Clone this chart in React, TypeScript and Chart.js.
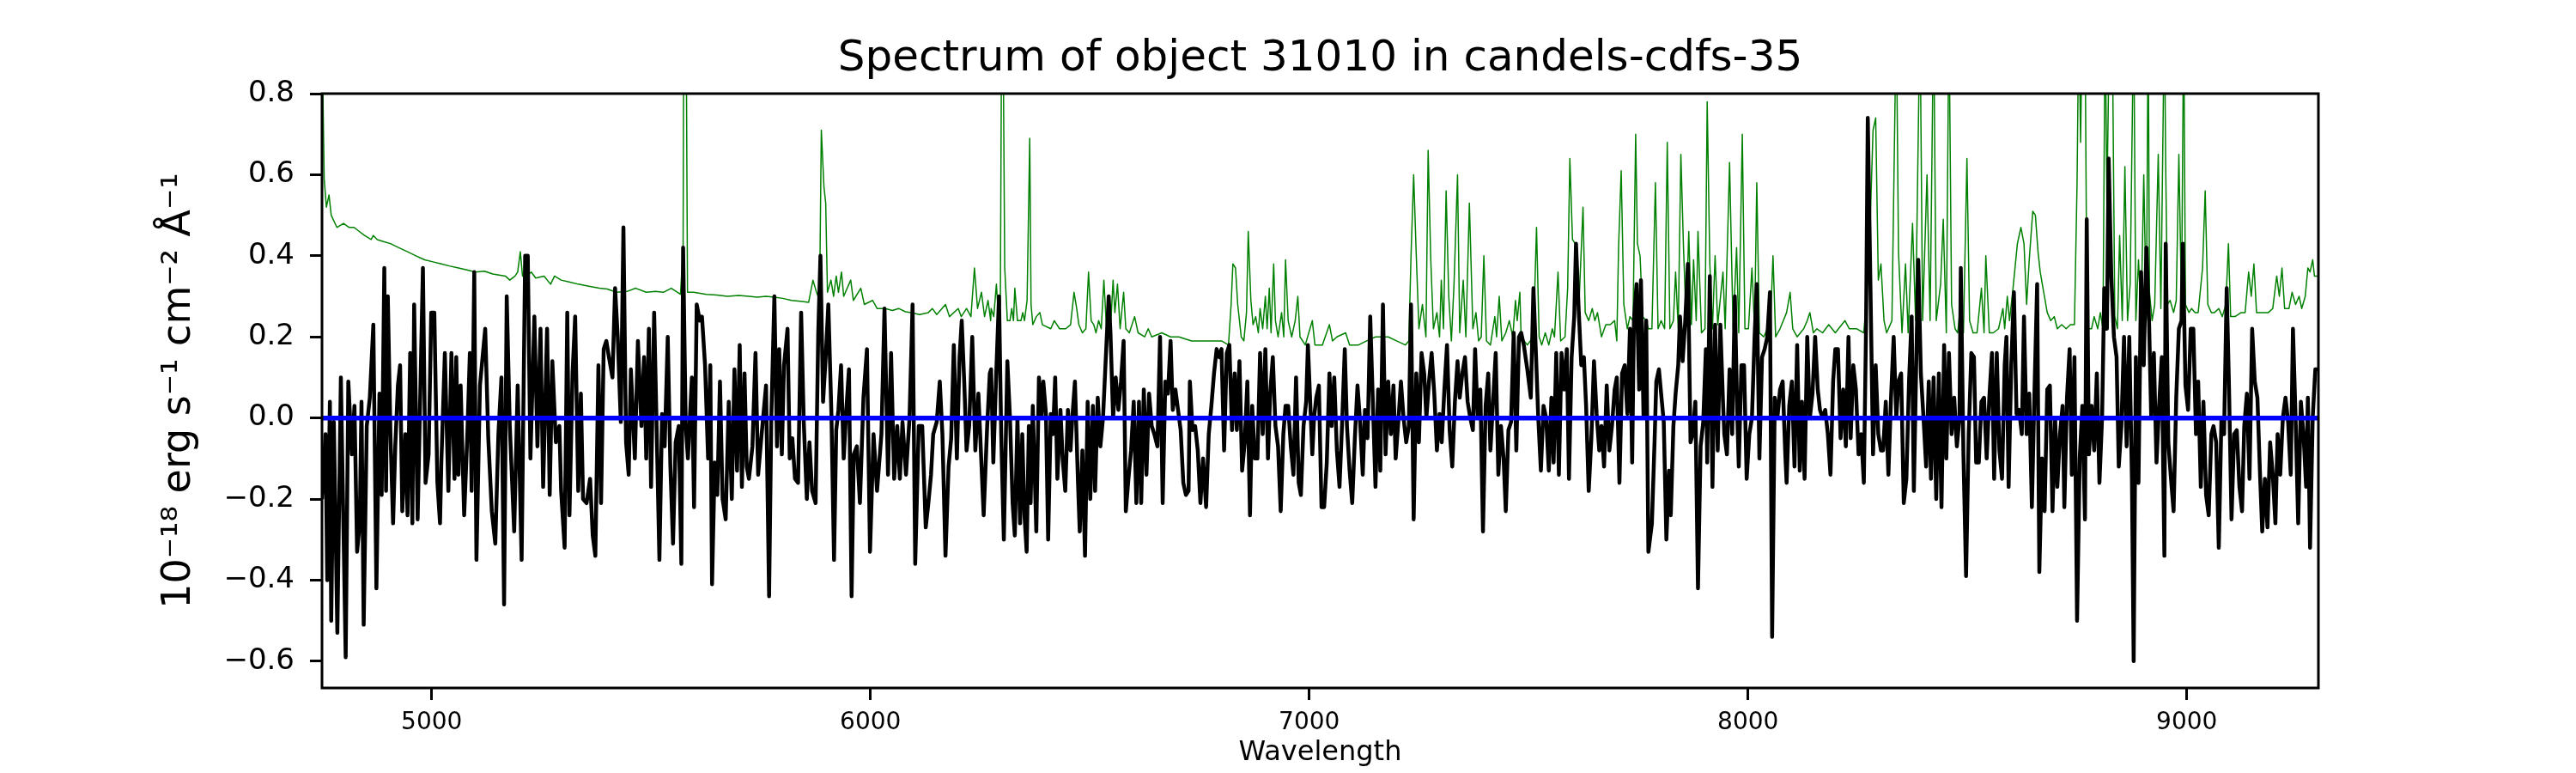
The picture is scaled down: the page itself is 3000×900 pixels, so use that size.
import React, { useEffect, useRef } from 'react';
import { Chart, registerables } from 'chart.js';

Chart.register(...registerables);

type Pt = [number, number];

const wavelengthTicks = [5000, 6000, 7000, 8000, 9000];
const fluxTicks = [-0.6, -0.4, -0.2, 0.0, 0.2, 0.4, 0.6, 0.8];

const fluxA: Pt[] = [
  [4750,-0.20],[4758,-0.04],[4762,-0.40],[4768,0.04],[4771,-0.50],[4777,-0.01],[4785,-0.53],[4793,0.10],[4804,-0.59],[4810,0.09],
  [4818,-0.09],[4824,0.03],[4830,-0.33],[4836,-0.26],[4840,0.04],[4845,-0.51],[4852,-0.02],[4859,0.05],[4867,0.23],[4874,-0.42],
  [4881,0.06],[4886,-0.19],[4892,0.37],[4896,-0.18],[4900,0.30],[4906,-0.04],[4912,-0.26],[4917,-0.07],[4923,0.08],[4928,0.13],
  [4933,-0.23],[4940,-0.04],[4945,-0.24],[4951,0.16],[4956,-0.26],[4960,0.28],[4968,-0.25],[4980,0.37],[4986,-0.16],[4993,-0.09],
  [4999,0.26],[5006,0.26],[5013,-0.16],[5019,-0.26],[5022,-0.11],[5030,0.16],[5038,-0.18],[5045,0.16],[5052,-0.15],[5056,0.15],
  [5061,-0.14],[5066,0.08],[5074,-0.24],[5081,-0.05],[5087,0.16],[5091,-0.18],[5097,0.36],[5102,-0.35],[5110,0.08],[5122,0.22],
  [5129,-0.05],[5137,-0.23],[5145,-0.31],[5152,-0.04],[5159,0.10],[5165,-0.46],[5171,0.30],[5178,-0.02],[5188,-0.28],[5196,0.08],
  [5205,-0.35],[5213,0.40],[5219,0.40],[5225,-0.10],[5234,0.25],[5241,-0.07],[5248,0.22],[5254,-0.17],[5263,0.22],[5269,-0.19],
  [5275,0.14],[5283,-0.06],[5291,-0.02],[5295,-0.18],[5303,-0.32],[5309,0.26],[5314,-0.24],[5321,0.11],[5327,0.25],[5334,-0.18],
  [5340,0.06],[5345,-0.20],[5353,-0.21],[5361,-0.15],[5367,-0.29],[5373,-0.34],[5380,0.13],[5386,-0.21],[5392,0.17],[5398,0.19],
  [5404,0.15],[5412,0.10],[5418,0.32],[5424,0.20],[5431,-0.01],[5437,0.47],[5443,-0.06],[5449,-0.14],[5454,0.12],[5463,-0.10],
  [5470,0.19],[5478,-0.02],[5484,0.15],[5489,-0.10],[5495,0.22],[5500,-0.17],[5507,0.26],[5512,0.01],[5519,-0.35],[5525,0.01],
  [5531,-0.07],[5538,0.20],[5544,-0.12],[5550,-0.31],[5556,-0.06],[5563,-0.02],[5569,-0.36],[5573,0.42],[5579,-0.02],[5584,-0.10],
  [5593,0.10],[5598,-0.22],[5604,0.28],[5611,0.24],[5616,0.25],[5623,0.13],[5630,-0.10],[5635,0.13],[5639,-0.41],[5645,-0.11],
  [5651,-0.19],[5657,0.09],[5663,-0.20],[5670,-0.25],[5677,0.04],[5684,-0.20],[5690,0.12],[5696,-0.13],[5702,0.18],[5707,-0.17],
  [5713,0.11],[5718,-0.12],[5723,-0.15],[5731,-0.07],[5738,0.16],[5744,-0.14],[5752,-0.04],[5762,0.08],[5769,-0.44],[5774,0.00],
  [5781,0.30],[5787,-0.07],[5792,0.17],[5798,-0.09],[5803,0.13],[5811,0.22],[5816,-0.10],[5822,-0.05],[5828,-0.15],[5835,-0.16],
  [5842,0.26],[5848,-0.01],[5855,-0.20],[5861,-0.06],[5867,-0.18],[5875,-0.21],[5881,0.21],[5886,0.40],[5892,0.04],[5898,0.15],
  [5904,0.28],[5911,0.01],[5917,-0.35],[5922,-0.03],[5927,0.02],[5933,0.13],[5939,-0.10],[5945,0.02],[5951,0.12],[5957,-0.44],
  [5962,-0.09],[5969,-0.07],[5976,-0.21],[5984,0.05],[5992,0.17],[5999,-0.33],[6007,-0.04],[6015,-0.18],[6025,-0.04],[6032,0.27],
  [6040,-0.14],[6047,0.16],[6054,-0.15],[6061,-0.02],[6067,-0.15],[6073,-0.01],[6081,-0.14],[6089,0.00],[6096,0.28],[6102,-0.36],
  [6110,-0.02],[6118,-0.02],[6126,-0.27],[6132,-0.21],[6138,-0.14],[6143,-0.04],[6151,-0.01],[6158,0.09],[6164,-0.04],[6171,-0.34],
  [6178,-0.12],[6184,-0.05],[6190,0.18],[6197,-0.10],[6203,0.15],[6208,0.24],[6214,0.08],[6219,-0.08],[6225,-0.02],[6232,0.20],
  [6239,-0.08],[6246,0.06],[6252,-0.09],[6258,-0.24],[6266,-0.02],[6272,0.11],
];

const fluxB: Pt[] = [
  [6275,0.12],[6280,-0.11],[6287,0.12],[6293,0.30],[6298,-0.04],[6304,-0.30],[6312,0.14],[6318,0.00],[6324,-0.21],[6329,-0.29],
  [6335,0.00],[6341,-0.26],[6346,-0.04],[6351,-0.24],[6356,-0.33],[6361,-0.02],[6365,-0.21],[6370,0.03],[6378,-0.28],[6384,0.10],
  [6390,0.00],[6394,0.09],[6400,0.01],[6405,-0.30],[6411,0.01],[6416,-0.04],[6421,0.10],[6426,-0.15],[6433,0.02],[6438,-0.10],
  [6444,-0.18],[6450,0.02],[6456,-0.08],[6460,0.00],[6466,0.09],[6473,-0.16],[6477,-0.28],[6483,-0.08],[6489,-0.34],[6495,0.04],
  [6501,-0.20],[6507,0.03],[6512,-0.18],[6518,0.05],[6524,-0.07],[6530,0.00],[6536,0.14],[6543,0.30],[6547,0.21],[6553,0.00],
  [6559,0.10],[6565,0.02],[6571,0.09],[6577,0.19],[6582,-0.23],[6588,-0.15],[6594,-0.08],[6600,0.04],[6606,-0.21],[6612,0.04],
  [6617,-0.21],[6623,0.07],[6629,-0.14],[6635,0.06],[6641,-0.02],[6647,-0.04],[6654,-0.07],[6660,0.20],[6666,-0.21],[6672,0.09],
  [6678,0.06],[6684,0.19],[6689,0.02],[6695,0.07],[6701,0.02],[6707,-0.03],[6713,-0.16],[6719,-0.19],[6725,-0.18],[6728,0.09],
  [6734,-0.03],[6740,-0.02],[6746,-0.08],[6752,-0.21],[6758,-0.10],[6765,-0.22],[6771,-0.04],[6777,0.03],[6783,0.11],[6789,0.17],
  [6795,0.15],[6800,0.17],[6806,-0.08],[6812,0.16],[6818,0.18],[6824,-0.03],[6830,0.11],[6835,-0.03],[6841,0.14],[6847,-0.13],
  [6853,-0.06],[6859,0.09],[6865,-0.24],[6870,0.03],[6876,-0.10],[6882,-0.10],[6888,0.16],[6894,-0.04],[6900,0.17],[6906,-0.10],
  [6911,0.06],[6917,0.15],[6923,-0.02],[6929,-0.07],[6935,-0.23],[6941,-0.04],[6946,0.03],[6952,0.03],[6958,-0.07],[6964,-0.14],
  [6970,0.10],[6976,-0.16],[6981,-0.19],[6987,-0.02],[6993,0.04],[6997,0.18],[7003,0.02],[7007,-0.09],[7011,0.00],[7016,0.05],
  [7022,0.08],[7028,-0.22],[7034,-0.22],[7040,-0.11],[7046,0.11],[7051,-0.02],[7057,0.10],[7063,-0.08],[7069,-0.17],[7075,-0.01],
  [7081,0.17],[7086,-0.02],[7092,-0.13],[7098,-0.21],[7104,-0.05],[7110,0.08],[7116,-0.01],[7122,-0.14],[7127,0.02],[7133,-0.05],
  [7139,0.25],[7145,0.04],[7151,-0.17],[7157,0.07],[7162,-0.13],[7168,0.28],[7174,-0.09],[7180,0.09],[7186,-0.04],[7192,0.08],
  [7197,-0.10],[7203,-0.01],[7209,0.09],[7215,0.00],[7221,-0.06],[7227,-0.02],[7232,0.28],[7238,-0.25],[7244,0.11],[7250,-0.06],
  [7256,0.16],[7262,0.11],[7267,0.00],[7273,0.09],[7279,0.16],[7285,0.06],[7291,-0.08],[7297,0.01],[7302,-0.06],[7308,0.07],
  [7314,0.18],[7320,-0.03],[7326,-0.12],[7332,0.04],[7338,0.14],[7343,0.05],[7349,0.11],[7355,0.15],[7361,0.04],[7367,0.00],
  [7373,-0.03],[7378,0.17],[7384,0.00],[7390,0.07],[7396,-0.28],[7402,0.03],[7408,0.11],[7413,-0.08],[7419,0.04],[7425,0.16],
  [7431,-0.14],[7437,-0.02],[7443,-0.10],[7448,-0.23],[7454,-0.03],[7460,-0.01],[7466,0.21],[7472,-0.08],[7478,0.20],[7483,0.21],
  [7489,0.18],[7497,0.12],[7505,0.05],[7511,0.32],[7517,0.15],[7522,0.00],[7528,-0.13],[7534,0.03],[7540,0.00],[7546,-0.13],
  [7552,0.05],[7557,-0.11],[7563,0.16],[7569,-0.14],[7575,0.16],[7581,0.07],[7587,0.17],[7592,-0.15],[7598,0.15],[7604,0.25],
  [7608,0.43],[7614,0.27],[7620,0.13],[7626,0.15],[7631,0.03],[7637,-0.18],[7643,-0.05],[7649,0.14],[7655,0.01],[7661,-0.08],
  [7666,-0.02],[7672,-0.12],[7678,0.08],[7684,-0.08],[7690,-0.02],[7696,0.07],[7701,0.10],[7707,-0.16],[7713,0.11],[7719,0.13],
  [7725,0.01],[7731,0.22],[7736,-0.11],[7740,0.24],[7746,0.33],[7752,0.07],[7756,0.34],[7762,0.00],[7768,0.24],[7773,-0.33],
];

const fluxC: Pt[] = [
  [7781,-0.26],[7787,-0.06],[7791,0.09],[7797,0.12],[7802,0.06],[7808,-0.01],[7814,-0.30],[7820,-0.13],[7824,-0.24],[7830,-0.02],
  [7835,0.06],[7841,0.13],[7845,0.25],[7851,0.14],[7857,0.24],[7863,0.38],[7869,-0.06],[7874,-0.04],[7880,0.04],[7886,-0.42],
  [7892,-0.07],[7898,-0.01],[7904,0.17],[7907,-0.11],[7913,0.35],[7919,-0.17],[7925,0.23],[7931,-0.08],[7937,0.23],[7943,0.04],
  [7946,-0.04],[7952,-0.09],[7958,0.12],[7964,-0.04],[7970,0.30],[7976,-0.01],[7979,-0.12],[7985,0.13],[7991,0.13],[7997,-0.15],
  [8003,-0.04],[8009,0.00],[8015,0.20],[8020,0.33],[8026,-0.10],[8032,0.15],[8038,0.17],[8044,0.20],[8050,0.31],[8055,-0.54],
  [8061,0.05],[8067,0.00],[8073,0.07],[8079,0.09],[8085,-0.09],[8088,-0.16],[8094,0.03],[8100,0.09],[8106,-0.12],[8112,0.18],
  [8118,-0.13],[8123,0.04],[8129,-0.15],[8135,0.20],[8141,0.00],[8147,0.06],[8153,0.20],[8159,0.07],[8164,0.02],[8170,0.00],
  [8176,0.02],[8182,-0.04],[8188,-0.14],[8194,0.09],[8199,0.17],[8205,0.17],[8211,-0.05],[8217,0.07],[8223,-0.07],[8229,0.20],
  [8234,-0.05],[8240,0.13],[8246,0.07],[8252,-0.09],[8258,-0.04],[8264,-0.16],[8269,0.22],[8273,0.74],[8279,0.33],[8285,-0.09],
  [8291,0.13],[8297,-0.04],[8303,-0.08],[8308,-0.08],[8314,0.04],[8320,-0.14],[8326,0.05],[8332,0.20],[8338,0.00],[8343,0.09],
  [8349,0.11],[8355,-0.21],[8361,-0.15],[8367,0.09],[8373,0.25],[8378,-0.18],[8382,0.05],[8388,0.39],[8394,0.11],[8400,0.00],
  [8406,-0.12],[8412,0.09],[8417,-0.15],[8423,0.10],[8429,-0.20],[8435,0.11],[8441,-0.22],[8447,0.18],[8452,-0.10],[8458,0.16],
  [8464,-0.04],[8470,0.05],[8476,-0.07],[8482,0.00],[8485,0.37],[8491,-0.09],[8497,-0.39],[8503,-0.04],[8509,0.16],[8515,0.15],
  [8520,-0.11],[8526,-0.11],[8532,0.04],[8538,0.05],[8544,-0.10],[8550,0.05],[8556,0.16],[8561,-0.15],[8567,0.16],[8573,-0.08],
  [8579,-0.15],[8585,0.13],[8589,0.20],[8594,-0.17],[8600,0.13],[8606,0.31],[8612,0.01],[8618,0.02],[8624,-0.04],[8629,0.25],
  [8635,-0.04],[8641,0.06],[8647,-0.22],[8653,0.07],[8659,0.33],[8664,-0.38],[8670,-0.10],[8676,-0.23],[8682,0.07],[8688,0.08],
  [8694,-0.23],[8700,0.00],[8705,-0.17],[8711,-0.04],[8717,0.03],[8721,-0.22],[8727,0.05],[8733,0.17],[8738,-0.14],[8744,0.15],
  [8750,-0.50],[8756,-0.10],[8762,0.03],[8768,-0.25],[8772,0.49],[8777,-0.09],[8783,0.03],[8789,-0.08],[8795,0.11],[8801,-0.16],
  [8807,0.00],[8812,0.32],[8818,0.22],[8822,0.64],[8828,0.35],[8834,0.20],[8840,0.15],[8845,-0.12],[8851,-0.02],[8857,0.20],
  [8863,-0.07],[8869,0.20],[8875,-0.15],[8879,-0.60],[8884,0.15],[8890,-0.16],[8896,0.36],[8902,0.13],[8908,0.42],[8914,0.24],
  [8919,0.00],[8925,0.16],[8931,-0.11],[8937,0.03],[8943,0.15],[8949,-0.34],[8952,0.43],[8958,-0.06],[8964,-0.15],[8970,-0.23],
  [8976,0.05],[8982,0.22],[8988,0.24],[8991,0.43],[8997,0.08],[9003,0.02],[9009,0.22],[9015,0.22],[9021,-0.04],[9026,0.09],
  [9032,-0.17],[9038,0.04],[9044,-0.19],[9050,-0.24],[9056,-0.04],[9061,-0.02],[9067,-0.06],[9073,-0.32],[9079,0.00],[9085,-0.04],
  [9091,0.32],[9096,0.09],[9102,-0.25],[9108,-0.04],[9114,-0.03],[9120,-0.17],[9126,-0.23],[9131,-0.02],[9137,0.06],[9143,-0.15],
  [9149,0.22],[9155,0.09],[9161,0.05],[9167,-0.14],[9172,-0.28],[9178,-0.15],[9184,-0.27],[9190,-0.06],[9196,-0.14],[9202,-0.26],
  [9207,-0.04],[9213,-0.14],[9219,0.00],[9225,0.05],[9231,-0.01],[9237,-0.14],[9242,0.22],[9248,0.00],[9254,-0.26],[9260,0.04],
  [9266,-0.04],[9272,-0.17],[9276,0.05],[9281,-0.32],[9287,0.00],[9293,0.12],[9300,0.12],
];

// flux uncertainty (green)
const errorA: Pt[] = [
  [4750,0.95],[4755,0.59],[4760,0.52],[4766,0.55],[4771,0.50],[4784,0.47],[4799,0.48],[4812,0.47],[4823,0.47],[4835,0.46],
  [4847,0.45],[4862,0.44],[4867,0.45],[4876,0.44],[4890,0.435],[4906,0.43],[4925,0.42],[4945,0.41],[4964,0.40],[4984,0.39],
  [5003,0.385],[5022,0.38],[5040,0.375],[5061,0.37],[5080,0.365],[5100,0.36],[5120,0.362],[5139,0.355],[5168,0.35],[5178,0.34],
  [5190,0.35],[5196,0.36],[5202,0.41],[5207,0.35],[5217,0.35],[5227,0.36],[5237,0.345],[5256,0.35],[5271,0.33],[5280,0.35],
  [5295,0.34],[5315,0.335],[5334,0.33],[5358,0.325],[5382,0.32],[5400,0.318],[5421,0.31],[5445,0.312],[5465,0.32],[5489,0.31],
  [5510,0.312],[5528,0.31],[5546,0.32],[5567,0.305],[5573,0.42],[5575,1.2],[5579,1.2],[5583,0.31],[5597,0.31],[5626,0.305],
  [5650,0.303],[5674,0.30],[5700,0.302],[5723,0.30],[5742,0.298],[5762,0.30],[5781,0.298],[5800,0.295],[5820,0.29],[5840,0.288],
  [5859,0.285],[5869,0.34],[5877,0.31],[5884,0.29],[5888,0.71],[5894,0.57],[5898,0.53],[5902,0.31],[5910,0.34],[5916,0.30],
  [5922,0.35],[5927,0.31],[5934,0.36],[5939,0.30],[5955,0.34],[5961,0.29],[5978,0.32],[5986,0.28],[6005,0.29],[6015,0.27],
  [6034,0.27],[6050,0.265],[6064,0.27],[6080,0.262],[6093,0.26],[6112,0.255],[6132,0.26],[6141,0.27],[6151,0.255],[6171,0.28],
  [6180,0.25],[6200,0.27],[6207,0.25],[6219,0.27],[6229,0.25],[6237,0.37],[6244,0.27],[6253,0.31],[6260,0.25],[6268,0.29],
  [6274,0.24],
];

const errorB: Pt[] = [
  [6275,0.27],[6281,0.25],[6287,0.33],[6291,0.26],[6296,0.28],[6299,1.0],[6302,1.0],[6306,0.37],[6312,0.24],[6318,0.24],
  [6322,0.27],[6326,0.24],[6329,0.32],[6335,0.24],[6343,0.24],[6347,0.26],[6351,0.24],[6357,0.29],[6363,0.69],[6366,0.28],
  [6370,0.23],[6378,0.25],[6386,0.26],[6392,0.23],[6411,0.22],[6419,0.24],[6431,0.22],[6445,0.22],[6456,0.23],[6464,0.31],
  [6470,0.27],[6475,0.23],[6483,0.21],[6491,0.22],[6497,0.36],[6503,0.24],[6509,0.23],[6514,0.21],[6520,0.24],[6526,0.22],
  [6532,0.34],[6538,0.22],[6544,0.30],[6547,0.22],[6553,0.34],[6557,0.26],[6563,0.33],[6569,0.22],[6577,0.31],[6582,0.22],
  [6590,0.21],[6602,0.25],[6610,0.21],[6625,0.20],[6633,0.22],[6641,0.20],[6664,0.21],[6684,0.20],[6703,0.20],[6732,0.19],
  [6762,0.19],[6800,0.19],[6816,0.18],[6822,0.28],[6826,0.38],[6832,0.37],[6837,0.28],[6845,0.20],[6851,0.19],[6857,0.26],
  [6861,0.46],[6867,0.29],[6872,0.23],[6878,0.25],[6884,0.21],[6888,0.27],[6894,0.22],[6900,0.30],[6904,0.22],[6909,0.32],
  [6913,0.21],[6919,0.38],[6923,0.24],[6929,0.20],[6937,0.26],[6942,0.20],[6946,0.39],[6952,0.24],[6960,0.20],[6968,0.24],
  [6974,0.30],[6979,0.20],[6991,0.18],[6999,0.21],[7007,0.24],[7013,0.18],[7030,0.18],[7046,0.23],[7053,0.19],[7063,0.20],
  [7083,0.21],[7092,0.18],[7112,0.18],[7131,0.19],[7151,0.20],[7180,0.20],[7199,0.19],[7219,0.18],[7227,0.19],[7232,0.40],
  [7238,0.60],[7244,0.40],[7250,0.22],[7258,0.28],[7266,0.20],[7271,0.66],[7277,0.39],[7283,0.22],[7291,0.26],[7297,0.20],
  [7301,0.34],[7306,0.22],[7312,0.56],[7318,0.30],[7324,0.19],[7330,0.33],[7338,0.60],[7343,0.21],[7351,0.34],[7357,0.20],
  [7365,0.53],[7373,0.22],[7380,0.26],[7386,0.19],[7392,0.20],[7398,0.40],[7404,0.19],[7413,0.18],[7423,0.25],[7427,0.20],
  [7433,0.30],[7439,0.19],[7448,0.21],[7456,0.24],[7464,0.20],[7470,0.29],[7474,0.24],[7480,0.31],[7483,0.20],[7497,0.18],
  [7511,0.20],[7518,0.47],[7524,0.20],[7530,0.18],[7538,0.21],[7546,0.18],[7554,0.22],[7559,0.20],[7567,0.36],[7573,0.19],
  [7583,0.20],[7589,0.32],[7594,0.64],[7600,0.44],[7606,0.43],[7614,0.26],[7624,0.52],[7629,0.26],[7637,0.24],[7645,0.27],
  [7651,0.24],[7657,0.26],[7666,0.20],[7676,0.23],[7686,0.23],[7696,0.24],[7701,0.19],[7705,0.42],[7711,0.61],[7717,0.28],
  [7725,0.22],[7731,0.25],[7738,0.24],[7744,0.70],[7748,0.43],[7754,0.40],[7760,0.25],[7768,0.24],[7773,0.22],
];

const errorC: Pt[] = [
  [7781,0.22],[7789,0.58],[7795,0.22],[7802,0.24],[7810,0.22],[7816,0.68],[7822,0.22],[7830,0.24],[7835,0.36],[7841,0.22],
  [7847,0.65],[7853,0.42],[7859,0.24],[7865,0.46],[7871,0.23],[7876,0.39],[7882,0.24],[7886,0.46],[7894,0.21],[7902,0.22],
  [7907,0.78],[7913,0.38],[7919,0.22],[7925,0.40],[7931,0.23],[7943,0.36],[7948,0.22],[7958,0.63],[7966,0.22],[7974,0.42],
  [7979,0.21],[7987,0.70],[7993,0.22],[8001,0.22],[8009,0.37],[8015,0.22],[8020,0.58],[8026,0.21],[8036,0.20],[8044,0.22],
  [8050,0.20],[8057,0.40],[8063,0.20],[8073,0.22],[8088,0.26],[8096,0.31],[8102,0.22],[8112,0.20],[8127,0.22],[8135,0.24],
  [8141,0.26],[8149,0.21],[8157,0.22],[8170,0.21],[8184,0.23],[8199,0.21],[8221,0.24],[8231,0.22],[8248,0.22],[8264,0.21],
  [8273,0.34],[8279,0.50],[8285,0.71],[8291,0.74],[8297,0.34],[8303,0.38],[8310,0.24],[8316,0.21],[8328,0.24],[8338,1.0],
  [8343,0.41],[8351,0.21],[8359,0.38],[8365,0.21],[8375,0.48],[8382,0.24],[8392,1.0],[8398,0.24],[8408,0.60],[8415,0.24],
  [8423,1.0],[8429,0.24],[8439,0.33],[8445,0.49],[8452,0.21],[8458,1.0],[8464,0.28],[8472,0.22],[8478,0.21],[8485,0.29],
  [8491,0.21],[8499,0.64],[8505,0.24],[8513,0.21],[8522,0.21],[8532,0.32],[8538,0.21],[8542,0.40],[8550,0.21],[8559,0.21],
  [8571,0.22],[8581,0.27],[8585,0.22],[8591,0.30],[8596,0.24],[8604,0.32],[8614,0.43],[8622,0.47],[8629,0.43],[8635,0.28],
  [8641,0.39],[8649,0.51],[8655,0.50],[8661,0.41],[8666,0.36],[8674,0.31],[8682,0.26],[8690,0.24],[8698,0.25],[8705,0.22],
  [8715,0.23],[8725,0.22],[8735,0.23],[8744,0.23],[8750,0.58],[8754,1.0],[8758,0.68],[8762,1.0],[8768,1.0],[8772,0.34],
  [8775,0.22],[8783,0.22],[8789,0.25],[8797,0.22],[8803,0.26],[8809,0.22],[8814,1.0],[8818,0.53],[8824,1.0],[8830,1.0],
  [8836,0.25],[8842,0.22],[8847,0.45],[8853,0.24],[8859,0.62],[8865,0.24],[8871,0.33],[8879,1.0],[8884,0.24],[8890,0.39],
  [8896,0.25],[8902,0.60],[8908,0.24],[8912,1.0],[8915,0.31],[8921,0.24],[8927,0.28],[8935,0.65],[8941,0.27],[8949,1.0],
  [8952,0.62],[8956,0.28],[8962,0.29],[8970,0.26],[8976,0.29],[8982,0.65],[8988,0.28],[8993,1.0],[8997,0.28],[9005,0.26],
  [9011,0.27],[9019,0.26],[9026,0.26],[9036,0.37],[9042,0.56],[9048,0.28],[9056,0.26],[9063,0.26],[9073,0.27],[9081,0.25],
  [9089,0.28],[9095,0.43],[9100,0.25],[9110,0.25],[9124,0.26],[9133,0.26],[9141,0.36],[9147,0.30],[9153,0.38],[9159,0.26],
  [9172,0.26],[9186,0.26],[9196,0.27],[9205,0.35],[9211,0.30],[9217,0.37],[9223,0.27],[9233,0.27],[9240,0.31],[9248,0.28],
  [9256,0.30],[9262,0.27],[9270,0.30],[9276,0.37],[9281,0.36],[9287,0.39],[9291,0.35],[9299,0.35],
];

// zero level (blue)
const zeroLine: Pt[] = [[4750, 0], [9300, 0]];

const toXY = (pts: Pt[]) => pts.map(([x, y]) => ({ x, y }));

const fmtFlux = (v: number) => (Math.abs(v) < 1e-9 ? '0.0' : v.toFixed(1)).replace('-', '\u2212');

const framePlugin = {
  id: 'frame',
  afterDatasetsDraw(chart: Chart) {
    const { ctx, chartArea: a } = chart;
    ctx.save();
    ctx.strokeStyle = '#000';
    ctx.lineWidth = 3;
    ctx.strokeRect(a.left, a.top, a.right - a.left, a.bottom - a.top);
    ctx.restore();
  },
};

const font = "'DejaVu Sans', sans-serif";
const tickGrid = {
  display: true,
  drawOnChartArea: false,
  drawTicks: true,
  tickLength: 14,
  tickWidth: 3,
  tickColor: '#000',
};

const SpectrumChart: React.FC = () => {
  const chartRef = useRef<HTMLCanvasElement | null>(null);
  const chartInstanceRef = useRef<Chart | null>(null);

  useEffect(() => {
    document.body.style.margin = '0';
    if (!chartRef.current) return;
    if (chartInstanceRef.current) chartInstanceRef.current.destroy();

    chartInstanceRef.current = new Chart(chartRef.current, {
      type: 'line',
      data: {
        datasets: [
          {
            label: 'zero',
            data: toXY(zeroLine),
            borderColor: '#0000ff',
            borderWidth: 5.5,
            pointRadius: 0,
            clip: 0,
            order: 0,
          },
          {
            label: 'flux',
            data: toXY([...fluxA, ...fluxB, ...fluxC]),
            borderColor: '#000000',
            borderWidth: 4.5,
            pointRadius: 0,
            clip: 0,
            order: 1,
          },
          {
            label: 'error',
            data: toXY([...errorA, ...errorB, ...errorC]),
            borderColor: '#008000',
            borderWidth: 1.5,
            pointRadius: 0,
            clip: 0,
            order: 2,
          },
        ],
      },
      options: {
        responsive: false,
        animation: false,
        devicePixelRatio: 1,
        events: [],
        layout: { padding: { top: 0, left: 0, right: 300, bottom: 0 } },
        elements: { line: { tension: 0, borderJoinStyle: 'round', fill: false } },
        plugins: {
          legend: { display: false },
          tooltip: { enabled: false },
          title: {
            display: true,
            fullSize: false,
            text: 'Spectrum of object 31010 in candels-cdfs-35',
            color: '#000',
            font: { family: font, size: 50, weight: 'normal' },
            padding: { top: 39, bottom: 10 },
          },
        },
        scales: {
          x: {
            type: 'linear',
            min: 4750,
            max: 9300,
            afterBuildTicks: (s: any) => {
              s.ticks = wavelengthTicks.map((v) => ({ value: v }));
            },
            afterFit: (s: any) => {
              s.height = 99;
            },
            border: { display: false },
            grid: tickGrid,
            ticks: {
              color: '#000',
              padding: 10,
              autoSkip: false,
              maxRotation: 0,
              font: { family: font, size: 28 },
              callback: (v: any) => String(v),
            },
            title: {
              display: true,
              text: 'Wavelength',
              color: '#000',
              font: { family: font, size: 32 },
              padding: { top: 0, bottom: 4 },
            },
          },
          y: {
            min: -0.666,
            max: 0.8,
            afterBuildTicks: (s: any) => {
              s.ticks = fluxTicks.map((v) => ({ value: v }));
            },
            afterFit: (s: any) => {
              s.width = 375;
            },
            border: { display: false },
            grid: tickGrid,
            ticks: {
              color: '#000',
              padding: 18,
              autoSkip: false,
              font: { family: font, size: 34 },
              callback: (v: any) => fmtFlux(Number(v)),
            },
            title: {
              display: true,
              text: '10\u207b\u00b9\u2078 erg s\u207b\u00b9 cm\u207b\u00b2 \u00c5\u207b\u00b9',
              color: '#000',
              font: { family: font, size: 46 },
              padding: { top: 181, bottom: 0 },
            },
          },
        },
      },
      plugins: [framePlugin],
    });

    return () => {
      if (chartInstanceRef.current) {
        chartInstanceRef.current.destroy();
        chartInstanceRef.current = null;
      }
    };
  }, []);

  return (
    <canvas
      ref={chartRef}
      width={3000}
      height={900}
      style={{ display: 'block', width: '3000px', height: '900px' }}
    />
  );
};

export default function App() {
  return <SpectrumChart />;
}
